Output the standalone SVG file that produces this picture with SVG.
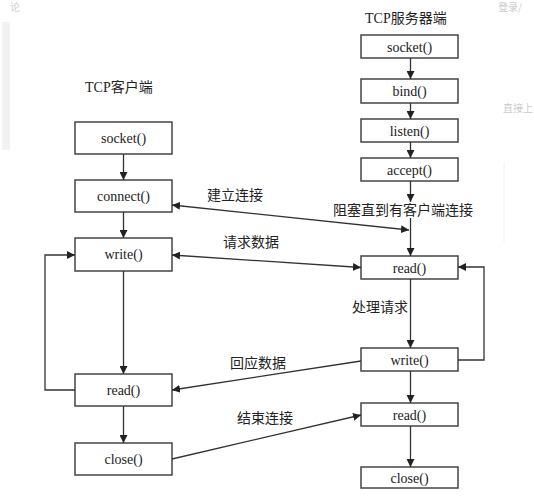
<svg xmlns="http://www.w3.org/2000/svg" width="534" height="500" viewBox="0 0 534 500">
<defs>
<marker id="ah" viewBox="0 0 10 10" refX="10" refY="5" markerWidth="8" markerHeight="8" markerUnits="userSpaceOnUse" orient="auto-start-reverse">
<path d="M0,0 L10,5 L0,10 z" fill="#222"/>
</marker>
<style>
.box{fill:#fff;stroke:#444;stroke-width:1.5}
.bt{font-family:"Liberation Serif","Noto Sans CJK SC",serif;font-size:14px;fill:#222;text-anchor:middle}
.lb{font-family:"Noto Sans CJK SC","Liberation Sans",sans-serif;font-size:14px;fill:#222}
.ln{fill:none;stroke:#333;stroke-width:1.3}
.faint{font-family:"Noto Sans CJK SC",sans-serif;font-size:10px;fill:#ccc}
</style>
</defs>
<rect width="534" height="500" fill="#fff"/>
<rect x="2" y="22" width="8" height="128" fill="#f2f2f2"/>
<text class="faint" x="10" y="11">论</text>
<text class="faint" x="498" y="11">登录/</text>
<text class="faint" x="503" y="112">直接上</text>
<line x1="504" y1="162" x2="504" y2="242" stroke="#f0f0f0"/>

<text class="lb" x="85" y="92"><tspan font-family="Liberation Serif" font-size="14">TCP</tspan>客户端</text>
<text class="lb" x="365" y="23"><tspan font-family="Liberation Serif" font-size="14">TCP</tspan>服务器端</text>

<g id="c-socket"><rect class="box" x="75" y="122" width="97" height="32"/><text class="bt" x="123.5" y="142.5">socket()</text></g>
<g id="c-connect"><rect class="box" x="75" y="180" width="97" height="32"/><text class="bt" x="123.5" y="200.5">connect()</text></g>
<g id="c-write"><rect class="box" x="75" y="238" width="97" height="33"/><text class="bt" x="123.5" y="259">write()</text></g>
<g id="c-read"><rect class="box" x="75" y="374" width="97" height="32"/><text class="bt" x="123.5" y="394.5">read()</text></g>
<g id="c-close"><rect class="box" x="75" y="443" width="97" height="32"/><text class="bt" x="123.5" y="463.5">close()</text></g>

<g id="s-socket"><rect class="box" x="361" y="35" width="97" height="23"/><text class="bt" x="409.5" y="51.5">socket()</text></g>
<g id="s-bind"><rect class="box" x="361" y="79" width="97" height="24"/><text class="bt" x="409.5" y="96">bind()</text></g>
<g id="s-listen"><rect class="box" x="361" y="119" width="97" height="23"/><text class="bt" x="409.5" y="135.5">listen()</text></g>
<g id="s-accept"><rect class="box" x="361" y="158" width="97" height="23"/><text class="bt" x="409.5" y="174.5">accept()</text></g>
<g id="s-read"><rect class="box" x="361" y="256" width="97" height="23"/><text class="bt" x="409.5" y="272.5">read()</text></g>
<g id="s-write"><rect class="box" x="361" y="348" width="97" height="23"/><text class="bt" x="409.5" y="364.5">write()</text></g>
<g id="s-read2"><rect class="box" x="361" y="403" width="97" height="23"/><text class="bt" x="409.5" y="419.5">read()</text></g>
<g id="s-close"><rect class="box" x="361" y="467" width="97" height="21"/><text class="bt" x="409.5" y="482.5">close()</text></g>

<g id="connectors">
<line class="ln" x1="123.5" y1="154" x2="123.5" y2="180" marker-end="url(#ah)"/>
<line class="ln" x1="123.5" y1="212" x2="123.5" y2="238" marker-end="url(#ah)"/>
<line class="ln" x1="123.5" y1="271" x2="123.5" y2="374" marker-end="url(#ah)"/>
<line class="ln" x1="123.5" y1="406" x2="123.5" y2="443" marker-end="url(#ah)"/>
<polyline class="ln" points="75,390 45,390 45,255 75,255" marker-end="url(#ah)"/>

<line class="ln" x1="410.5" y1="58" x2="410.5" y2="79" marker-end="url(#ah)"/>
<line class="ln" x1="410.5" y1="103" x2="410.5" y2="119" marker-end="url(#ah)"/>
<line class="ln" x1="410.5" y1="142" x2="410.5" y2="158" marker-end="url(#ah)"/>
<line class="ln" x1="410.5" y1="181" x2="410.5" y2="202" marker-end="url(#ah)"/>
<line class="ln" x1="410.5" y1="218" x2="410.5" y2="256" marker-end="url(#ah)"/>
<line class="ln" x1="410.5" y1="279" x2="410.5" y2="348" marker-end="url(#ah)"/>
<line class="ln" x1="410.5" y1="371" x2="410.5" y2="403" marker-end="url(#ah)"/>
<line class="ln" x1="410.5" y1="426" x2="410.5" y2="467" marker-end="url(#ah)"/>
<polyline class="ln" points="458,360 484,360 484,267 458,267" marker-end="url(#ah)"/>

<line class="ln" x1="172" y1="205" x2="409" y2="230" marker-start="url(#ah)" marker-end="url(#ah)"/>
<line class="ln" x1="172" y1="255" x2="361" y2="267.5" marker-start="url(#ah)" marker-end="url(#ah)"/>
<line class="ln" x1="361" y1="361" x2="172" y2="390" marker-end="url(#ah)"/>
<line class="ln" x1="172" y1="459" x2="361" y2="415" marker-end="url(#ah)"/>
</g>

<text class="lb" x="207" y="200">建立连接</text>
<text class="lb" x="333" y="215">阻塞直到有客户端连接</text>
<text class="lb" x="223" y="247">请求数据</text>
<text class="lb" x="352" y="312">处理请求</text>
<text class="lb" x="230" y="368">回应数据</text>
<text class="lb" x="237" y="423">结束连接</text>
</svg>
